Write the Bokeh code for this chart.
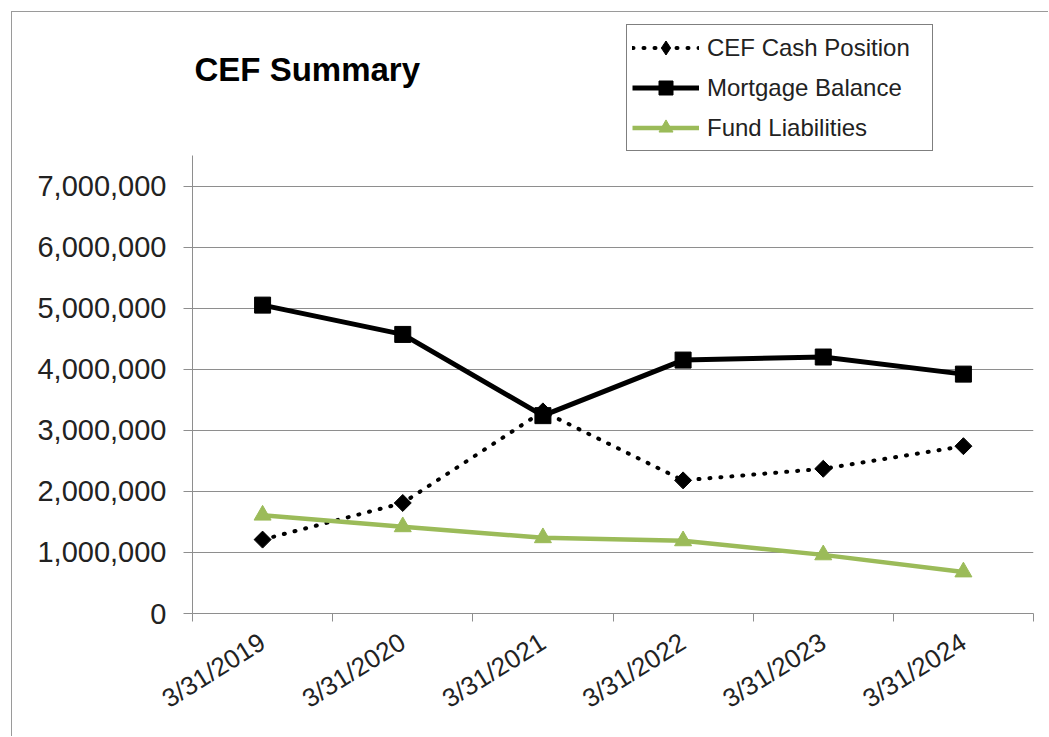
from math import pi
from bokeh.plotting import figure
from bokeh.models import (Range1d, FixedTicker, NumeralTickFormatter, Legend, LegendItem, Label)
from bokeh.embed import file_html
from bokeh.resources import INLINE

dates = ["3/31/2019", "3/31/2020", "3/31/2021", "3/31/2022", "3/31/2023", "3/31/2024"]
cef_cash = [1210000, 1810000, 3310000, 2180000, 2370000, 2740000]
mortgage = [5050000, 4570000, 3240000, 4150000, 4200000, 3920000]
fund_liab = [1610000, 1420000, 1240000, 1190000, 960000, 680000]
y_ticks = [0, 1000000, 2000000, 3000000, 4000000, 5000000, 6000000, 7000000]
y_axis_max = 7500000

xs = [i + 0.5 for i in range(len(dates))]

GRAY = "#8e8e8e"
TXT = "#222222"
GREEN = "#9BBB59"
FONT = "Liberation Sans"

# frame spans from the top of the chart area down to the x axis; the value axis
# only covers 0..7.5M (458 px), the space above holds title and legend
FRAME_H = 599
AXIS_H = 458
view_top = y_axis_max * FRAME_H / AXIS_H

p = figure(width=1037, height=725, output_backend="svg", toolbar_location=None, title=None,
           x_range=Range1d(0, len(dates)), y_range=Range1d(0, view_top),
           min_border_left=180, min_border_right=16, min_border_top=2, min_border_bottom=124)
p.margin = (11, 0, 0, 11)
p.styles = {"border-left": "1px solid #9a9a9a", "border-top": "1px solid #9a9a9a"}
p.outline_line_color = None
p.background_fill_color = "white"
p.border_fill_color = "white"

# grid
p.xgrid.visible = False
p.ygrid.grid_line_color = GRAY
p.ygrid.grid_line_width = 1
p.ygrid.ticker = FixedTicker(ticks=y_ticks)

# y axis
p.yaxis.ticker = FixedTicker(ticks=y_ticks)
p.yaxis.bounds = (0, y_axis_max)
p.yaxis.formatter = NumeralTickFormatter(format="0,0")
p.yaxis.axis_line_color = GRAY
p.yaxis.major_tick_line_color = GRAY
p.yaxis.major_tick_out = 9
p.yaxis.major_tick_in = 0
p.yaxis.minor_tick_line_color = None
p.yaxis.major_label_text_font = FONT
p.yaxis.major_label_text_font_size = "29px"
p.yaxis.major_label_text_color = TXT
p.yaxis.major_label_standoff = 17

# x axis
p.xaxis.ticker = FixedTicker(ticks=xs, minor_ticks=list(range(len(dates) + 1)))
p.xaxis.major_label_overrides = {x: d for x, d in zip(xs, dates)}
p.xaxis.axis_line_color = GRAY
p.xaxis.major_tick_line_color = None
p.xaxis.major_tick_out = 0
p.xaxis.major_tick_in = 0
p.xaxis.minor_tick_line_color = GRAY
p.xaxis.minor_tick_out = 8
p.xaxis.minor_tick_in = 0
p.xaxis.major_label_orientation = 32 * pi / 180
p.xaxis.major_label_text_font = FONT
p.xaxis.major_label_text_font_size = "26px"
p.xaxis.major_label_text_color = TXT
p.xaxis.major_label_standoff = 18

# series
l1 = p.line(xs, cef_cash, line_color="black", line_width=4, line_dash="1 10", line_cap="round")
# diamond marker used for the legend key (hidden under the rotated squares in the plot)
s1_key = p.scatter(xs, cef_cash, marker="diamond", size=11, fill_color="black", line_color="black")
s1 = p.scatter(xs, cef_cash, marker="square", angle=pi / 4, size=12, fill_color="black", line_color="black")
l2 = p.line(xs, mortgage, line_color="black", line_width=5)
s2 = p.scatter(xs, mortgage, marker="square", size=16, fill_color="black", line_color="black")
l3 = p.line(xs, fund_liab, line_color=GREEN, line_width=4.5)
s3 = p.scatter(xs, fund_liab, marker="triangle", size=17, fill_color=GREEN, line_color=GREEN)

legend = Legend(items=[
    LegendItem(label="CEF Cash Position", renderers=[l1, s1_key]),
    LegendItem(label="Mortgage Balance", renderers=[l2, s2]),
    LegendItem(label="Fund Liabilities", renderers=[l3, s3]),
], location=(434, 462))
legend.border_line_color = "black"
legend.border_line_width = 1
legend.background_fill_color = "white"
legend.background_fill_alpha = 1
legend.label_text_font = FONT
legend.label_text_font_size = "24px"
legend.label_text_color = TXT
legend.glyph_width = 67
legend.glyph_height = 35
legend.label_height = 35
legend.label_width = 220
legend.label_standoff = 8
legend.spacing = 5
legend.padding = 5
legend.margin = 0
p.add_layout(legend)

title = Label(x=0, y=y_axis_max, text="CEF Summary", text_font=FONT, text_font_style="bold",
              text_font_size="33px", text_color="black", x_offset=2, y_offset=86,
              text_baseline="alphabetic")
p.add_layout(title)

open("out.html", "w").write(file_html(p, INLINE))
